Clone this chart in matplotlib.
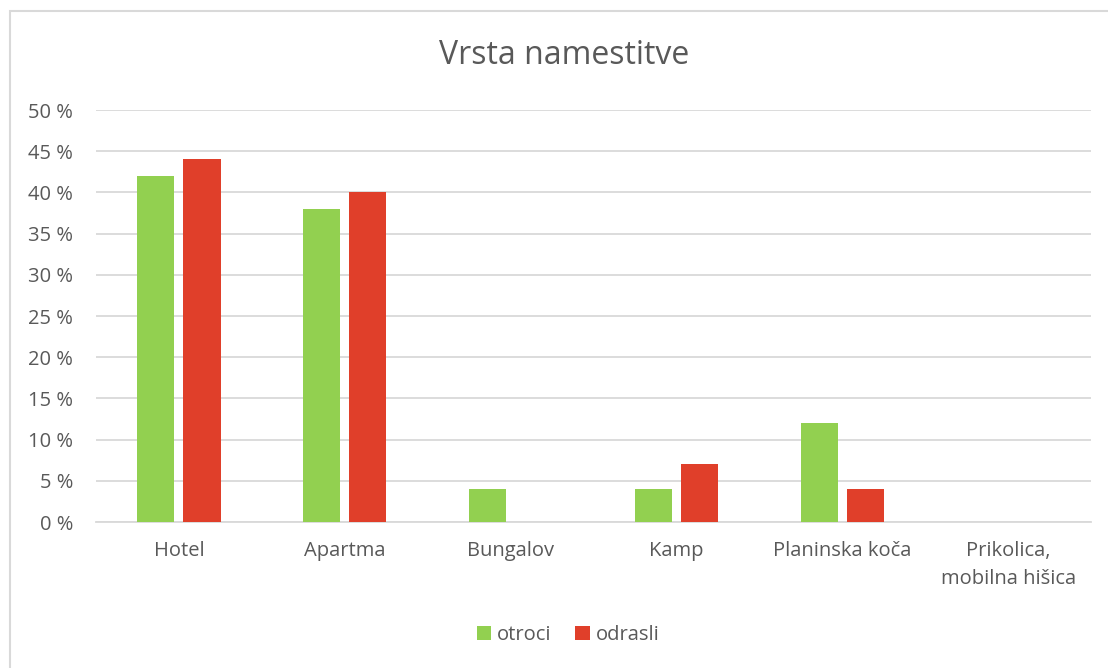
import matplotlib
matplotlib.use("Agg")
import matplotlib.pyplot as plt
from matplotlib.patches import Rectangle
import numpy as np

categories = ["Hotel", "Apartma", "Bungalov", "Kamp", "Planinska koča", "Prikolica,\nmobilna hišica"]
otroci = [42, 38, 4, 4, 12, 0]
odrasli = [44, 40, 0, 7, 4, 0]
yticks = [0, 5, 10, 15, 20, 25, 30, 35, 40, 45, 50]

plt.rcParams['font.family'] = ['Open Sans', 'DejaVu Sans']
txt = '#595959'
W, H = 1108, 668
fig = plt.figure(figsize=(W/100, H/100), dpi=100)
fig.patch.set_facecolor('white')
fig.add_artist(Rectangle((9.5/W, -0.1), 1.2, (H-11.5)/H + 0.1, transform=fig.transFigure,
                         fill=False, edgecolor='#D9D9D9', linewidth=1.5))

ax = fig.add_axes([96/W, 1-522/H, (1091-96)/W, (522-110)/H])
x = np.arange(len(categories))
bw = 0.224
off = 0.139
ax.bar(x - off, otroci, bw, color='#92D050', label='otroci', zorder=3)
ax.bar(x + off, odrasli, bw, color='#E03F2A', label='odrasli', zorder=3)
ax.set_xlim(-0.5, len(categories) - 0.5)
ax.set_ylim(0, 50)
ax.set_yticks(yticks)
ax.set_yticklabels([f"{v} %" for v in yticks], fontsize=14.5, color=txt)
ax.set_xticks(x)
ax.set_xticklabels(categories, fontsize=14.5, color=txt, linespacing=1.5)
ax.tick_params(axis='both', length=0)
ax.tick_params(axis='y', pad=16.5)
ax.tick_params(axis='x', pad=14)
ax.grid(axis='y', color='#D9D9D9', linewidth=1.3, zorder=0)
for s in ['top', 'right', 'left']:
    ax.spines[s].set_visible(False)
ax.spines['bottom'].set_color('#D9D9D9')
ax.spines['bottom'].set_linewidth(1.3)

fig.text(564/W, 1-55/H, "Vrsta namestitve", ha='center', va='center', fontsize=23, color=txt)
fig.legend(loc='center', bbox_to_anchor=(568/W, 1-635/H), ncol=2, frameon=False,
           fontsize=14.5, labelcolor=txt, handlelength=0.7, handleheight=0.7,
           handletextpad=0.3, columnspacing=1.2)
fig.savefig("out.png", dpi=100)
